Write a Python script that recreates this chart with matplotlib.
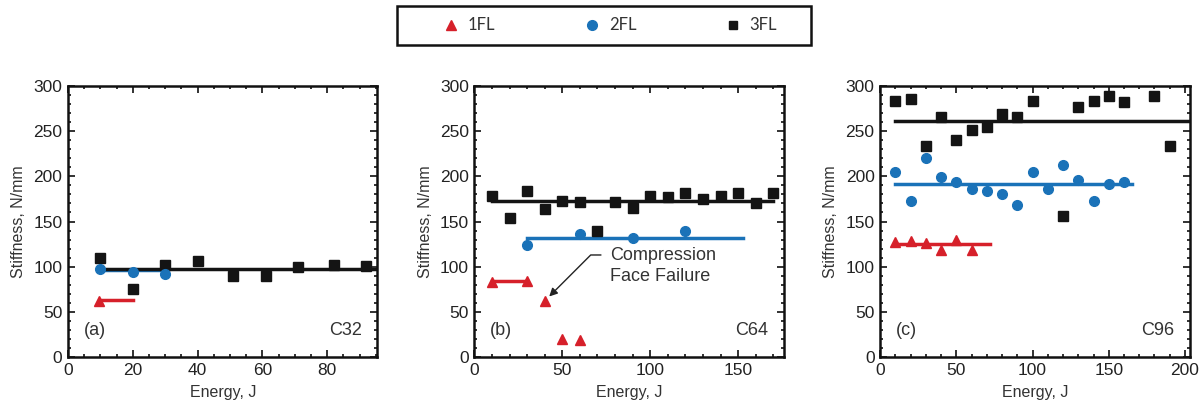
import matplotlib
matplotlib.use("Agg")
import matplotlib.pyplot as plt
from matplotlib.lines import Line2D
from matplotlib.patches import Rectangle
from matplotlib.ticker import MultipleLocator

plt.rcParams["font.family"] = ["Liberation Sans", "DejaVu Sans"]

RED = "#d6202a"
BLUE = "#1a72b8"
BLACK = "#141414"

# ---- panel (a) C32 ----
a_3fl_x = [10, 20, 30, 40, 51, 61, 71, 82, 92]
a_3fl_y = [110, 75, 102, 106, 90, 90, 100, 102, 101]
a_2fl_x = [10, 20, 30]
a_2fl_y = [98, 94, 92]
a_1fl_x = [9.5]
a_1fl_y = [62]
a_fit = {"3FL": (10, 96, 97), "2FL": (10, 30, 96), "1FL": (10, 20, 63)}

# ---- panel (b) C64 ----
b_3fl_x = [10, 20, 30, 40, 50, 60, 70, 80, 90, 100, 110, 120, 130, 140, 150, 160, 170]
b_3fl_y = [178, 154, 184, 164, 173, 172, 140, 172, 165, 178, 177, 182, 175, 178, 182, 170, 182]
b_2fl_x = [30, 60, 90, 120]
b_2fl_y = [124, 136, 132, 139]
b_1fl_x = [10, 30, 40, 50, 60]
b_1fl_y = [83, 84, 62, 20, 19]
b_fit = {"3FL": (10, 170, 172.5), "2FL": (30, 153, 132), "1FL": (10, 30, 84)}

# ---- panel (c) C96 ----
c_3fl_x = [10, 20, 30, 40, 50, 60, 70, 80, 90, 100, 120, 130, 140, 150, 160, 180, 190]
c_3fl_y = [283, 285, 234, 266, 240, 251, 254, 269, 266, 283, 156, 277, 283, 289, 282, 289, 233]
c_2fl_x = [10, 20, 30, 40, 50, 60, 70, 80, 90, 100, 110, 120, 130, 140, 150, 160]
c_2fl_y = [205, 173, 220, 199, 194, 186, 184, 180, 168, 205, 186, 213, 196, 173, 192, 194]
c_1fl_x = [10, 20, 30, 40, 50, 60]
c_1fl_y = [127, 129, 126, 119, 130, 119]
c_fit = {"3FL": (10, 203, 261), "2FL": (10, 165, 192), "1FL": (10, 72, 125)}

panels = [
    ("(a)", "C32", 95.5, 20, 5, a_3fl_x, a_3fl_y, a_2fl_x, a_2fl_y, a_1fl_x, a_1fl_y, a_fit),
    ("(b)", "C64", 176, 50, 10, b_3fl_x, b_3fl_y, b_2fl_x, b_2fl_y, b_1fl_x, b_1fl_y, b_fit),
    ("(c)", "C96", 203, 50, 10, c_3fl_x, c_3fl_y, c_2fl_x, c_2fl_y, c_1fl_x, c_1fl_y, c_fit),
]

fig = plt.figure(figsize=(12.04, 4.11), dpi=100)
lefts = [0.0565, 0.394, 0.731]
width = 0.257
bottom, height = 0.131, 0.66

ms = 7
for left, p in zip(lefts, panels):
    tag, name, xmax, xmaj, xmin_, x3, y3, x2, y2, x1, y1, fit = p
    ax = fig.add_axes([left, bottom, width, height])

    # fit lines
    for key, col in (("1FL", RED), ("2FL", BLUE), ("3FL", BLACK)):
        x0, x1_, yv = fit[key]
        ax.plot([x0, x1_], [yv, yv], color=col, lw=2.5, zorder=2)

    ax.plot(x3, y3, ls="none", marker="s", ms=ms, color=BLACK, zorder=3)
    ax.plot(x2, y2, ls="none", marker="o", ms=ms, color=BLUE, zorder=3)
    ax.plot(x1, y1, ls="none", marker="^", ms=ms, color=RED, zorder=3)

    ax.set_xlim(0, xmax)
    ax.set_ylim(0, 300)
    ax.xaxis.set_major_locator(MultipleLocator(xmaj))
    ax.xaxis.set_minor_locator(MultipleLocator(xmin_))
    ax.yaxis.set_major_locator(MultipleLocator(50))
    ax.yaxis.set_minor_locator(MultipleLocator(10))
    ax.tick_params(which="both", direction="in", top=True, right=True,
                   labelsize=12.5, colors="#222222", width=1.3)
    ax.tick_params(which="major", length=5, pad=4)
    ax.tick_params(which="minor", length=2.5)
    for s in ax.spines.values():
        s.set_linewidth(1.8)
        s.set_color("#111111")

    ax.set_xlabel("Energy, J", fontsize=11.5, color="#333333", labelpad=5)
    ax.set_ylabel("Stiffness, N/mm", fontsize=11.5, color="#333333", labelpad=5)

    ax.text(0.05, 0.10, tag, transform=ax.transAxes, fontsize=13,
            color="#333333", ha="left", va="center")
    ax.text(0.95, 0.10, name, transform=ax.transAxes, fontsize=13,
            color="#333333", ha="right", va="center")

    if name == "C64":
        ax.text(77, 101, "Compression\nFace Failure", fontsize=13,
                color="#333333", ha="left", va="center", linespacing=1.32)
        ax.annotate("", xy=(42, 66), xytext=(72, 113),
                    arrowprops=dict(arrowstyle="-|>", color="#222222", lw=1,
                                    mutation_scale=12,
                                    connectionstyle="angle,angleA=0,angleB=45,rad=0",
                                    shrinkA=0, shrinkB=1))

# legend frame drawn separately so it spans the full box
fig.add_artist(Rectangle((397 / 1204, 1 - 45 / 411), 414 / 1204, 39 / 411,
                         transform=fig.transFigure, fill=False,
                         edgecolor="#111111", lw=1.8))

handles = [
    Line2D([], [], ls="none", marker="^", ms=7, color=RED, label="1FL"),
    Line2D([], [], ls="none", marker="o", ms=7, color=BLUE, label="2FL"),
    Line2D([], [], ls="none", marker="s", ms=6, color=BLACK, label="3FL"),
]
leg = fig.legend(handles=handles, loc="center", ncol=3,
                 bbox_to_anchor=(611 / 1204, 1 - 25.5 / 411), frameon=False,
                 prop={"family": "Lato", "size": 12},
                 handletextpad=0.6, handlelength=0.8, columnspacing=5.4)
for t in leg.get_texts():
    t.set_color("#333333")

fig.savefig("out.png", dpi=100)
